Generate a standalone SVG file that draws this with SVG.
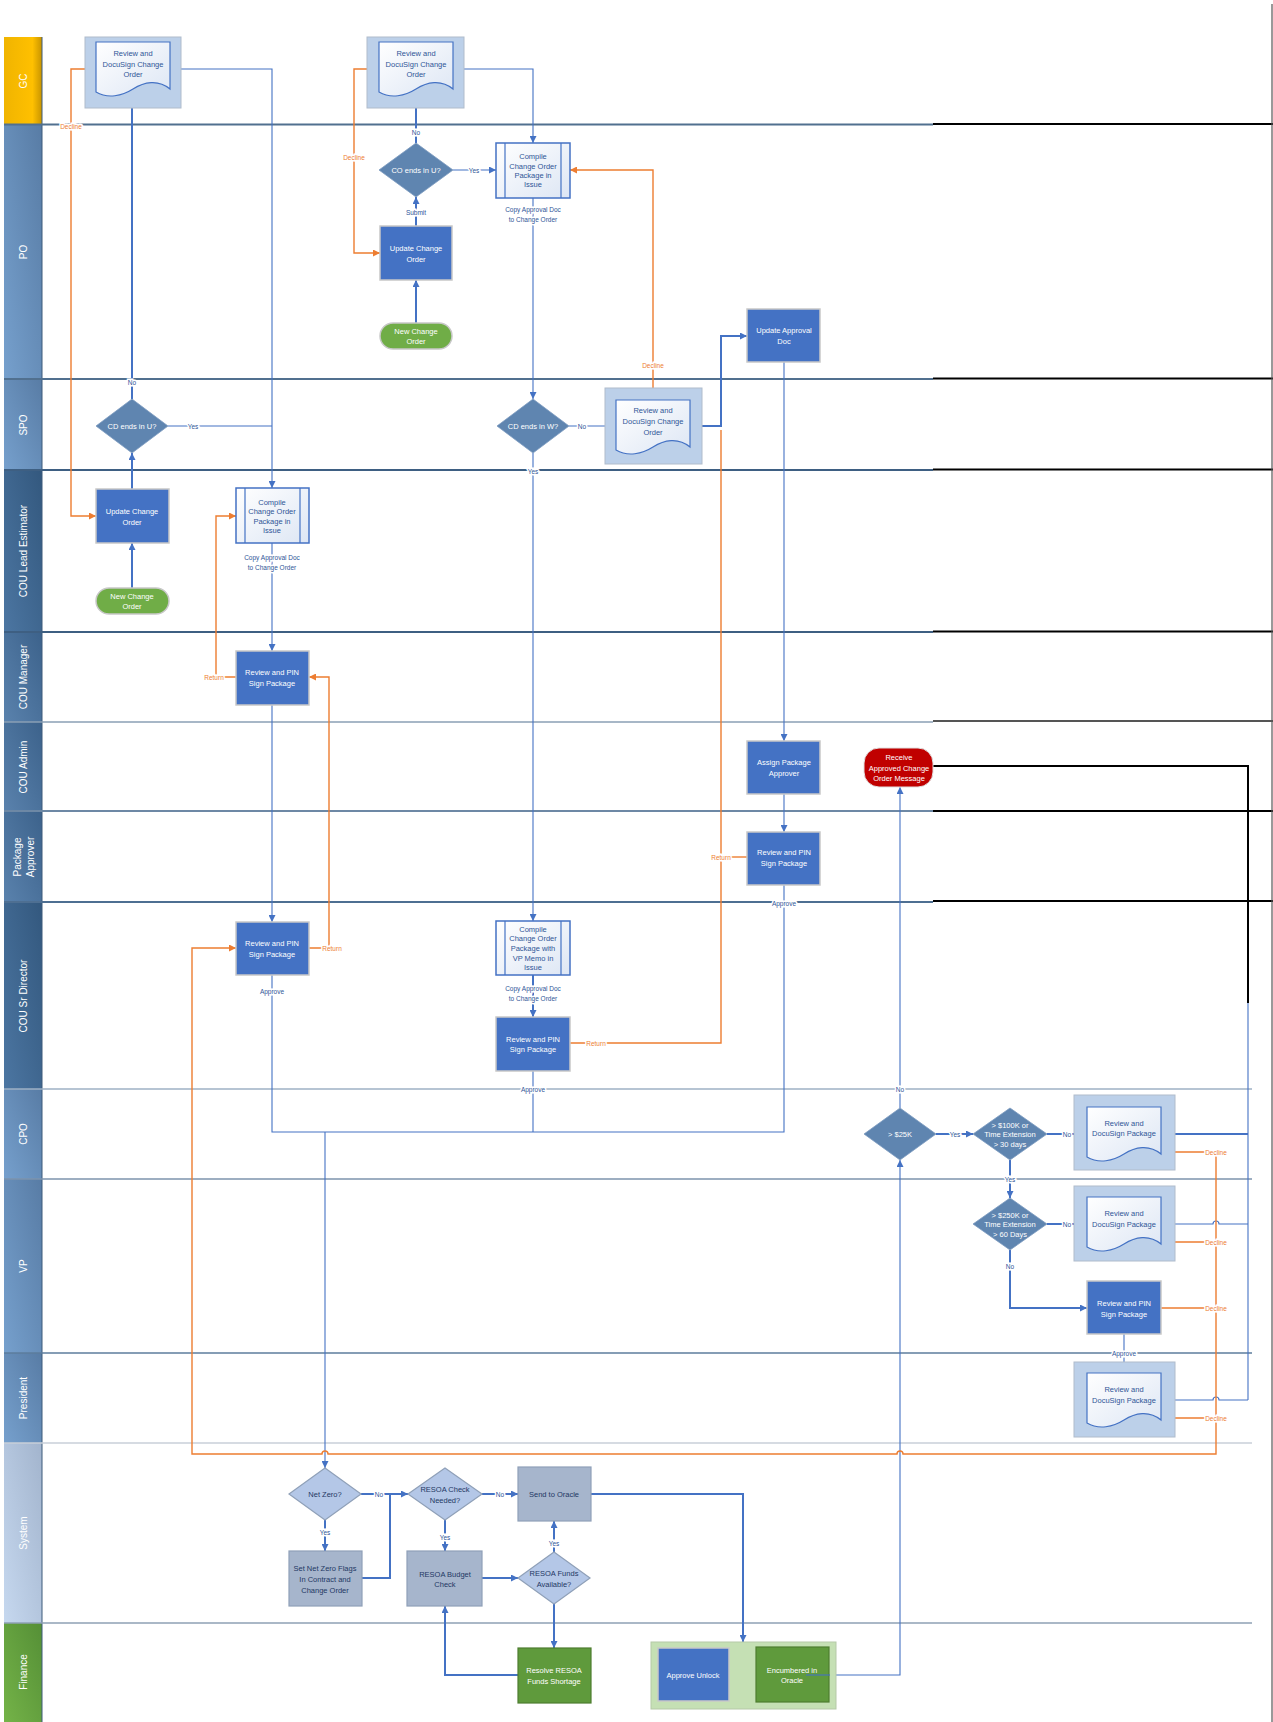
<svg xmlns="http://www.w3.org/2000/svg" xmlns:xlink="http://www.w3.org/1999/xlink" width="1273" height="1722" viewBox="0 0 1273 1722">
<defs>
<style>
.t{font-family:"Liberation Sans",Arial,sans-serif;font-size:7.5px;text-anchor:middle;dominant-baseline:central}
.tw{fill:#fff}.tb{fill:#2f5597}.tn{fill:#1f3864}
.lane{font-family:"Liberation Sans",Arial,sans-serif;font-size:10px;fill:#fff;text-anchor:middle;dominant-baseline:central}
.lbl{font-family:"Liberation Sans",Arial,sans-serif;font-size:6.5px;fill:#2f5597;text-anchor:middle;dominant-baseline:central;paint-order:stroke;stroke:#fff;stroke-width:3px}
.lo{fill:#ed7d31}
.proc{fill:#4472c4;stroke:#c8c8c8;stroke-width:1.5}
.dia{fill:#5f85b0;stroke:#7d9cc0;stroke-width:0.8}
.cont{fill:#bcd0e9;stroke:#b0bccb;stroke-width:1}
.doc{fill:url(#docg);stroke:#4472c4;stroke-width:1.2}
.sub{fill:url(#docg);stroke:#4472c4;stroke-width:1.5}
.term{fill:#70ad47;stroke:#c8c8c8;stroke-width:1.5}
.red{fill:#c00000;stroke:#e0e0e0;stroke-width:1}
.sys{fill:#a6b5cc;stroke:#8fa0b8;stroke-width:1.2}
.sysd{fill:#b4c7e7;stroke:#8fa0b8;stroke-width:1.2}
.fin{fill:#5f9a3c;stroke:#4e7d30;stroke-width:1.2}
.c{fill:none;stroke:#4472c4;stroke-width:1.1}
.ct{fill:none;stroke:#4472c4;stroke-width:2}
.o{fill:none;stroke:#ed7d31;stroke-width:1.4}
.bk{fill:none;stroke:#000;stroke-width:2}
</style>
<marker id="ab" viewBox="0 0 10 10" refX="10" refY="5" markerWidth="7" markerHeight="7" markerUnits="userSpaceOnUse" orient="auto"><path d="M0,0 L10,5 L0,10 z" fill="#4472c4"/></marker>
<marker id="ao" viewBox="0 0 10 10" refX="10" refY="5" markerWidth="7" markerHeight="7" markerUnits="userSpaceOnUse" orient="auto"><path d="M0,0 L10,5 L0,10 z" fill="#ed7d31"/></marker>
<linearGradient id="docg" x1="0" y1="0" x2="1" y2="1"><stop offset="0" stop-color="#ffffff"/><stop offset="1" stop-color="#dde6f4"/></linearGradient>
<linearGradient id="gGC" x1="0" y1="0" x2="1" y2="0"><stop offset="0" stop-color="#f0b400"/><stop offset="0.75" stop-color="#ffc000"/><stop offset="1" stop-color="#c89400"/></linearGradient>
<linearGradient id="gB1" x1="0" y1="1" x2="1" y2="0"><stop offset="0" stop-color="#76a0cd"/><stop offset="1" stop-color="#587ca5"/></linearGradient>
<linearGradient id="gB2" x1="0" y1="1" x2="1" y2="0"><stop offset="0" stop-color="#4c76a2"/><stop offset="1" stop-color="#33587e"/></linearGradient>
<linearGradient id="gB3" x1="0" y1="1" x2="1" y2="0"><stop offset="0" stop-color="#5a82ad"/><stop offset="1" stop-color="#3c628b"/></linearGradient>
<linearGradient id="gSys" x1="0" y1="1" x2="1" y2="0"><stop offset="0" stop-color="#c6d8ef"/><stop offset="1" stop-color="#a2b4cd"/></linearGradient>
<linearGradient id="gFin" x1="0" y1="1" x2="1" y2="0"><stop offset="0" stop-color="#74b348"/><stop offset="1" stop-color="#558f36"/></linearGradient>
<path id="doc" d="M0,0 H74 V47 C62,37 48,40 37,47 C26,54 12,57 0,50 Z"/>
</defs>
<rect x="0" y="0" width="1273" height="1722" fill="#fff"/>

<g id="lanes">
<rect x="4" y="37" width="38" height="88" fill="url(#gGC)"/>
<rect x="4" y="125" width="38" height="254" fill="url(#gB1)"/>
<rect x="4" y="379" width="38" height="91" fill="url(#gB1)"/>
<rect x="4" y="470" width="38" height="162" fill="url(#gB2)"/>
<rect x="4" y="632" width="38" height="90" fill="url(#gB3)"/>
<rect x="4" y="722" width="38" height="89" fill="url(#gB3)"/>
<rect x="4" y="811" width="38" height="91" fill="url(#gB3)"/>
<rect x="4" y="902" width="38" height="187" fill="url(#gB2)"/>
<rect x="4" y="1089" width="38" height="90" fill="url(#gB1)"/>
<rect x="4" y="1179" width="38" height="174" fill="url(#gB1)"/>
<rect x="4" y="1353" width="38" height="90" fill="url(#gB1)"/>
<rect x="4" y="1443" width="38" height="180" fill="url(#gSys)"/>
<rect x="4" y="1623" width="38" height="99" fill="url(#gFin)"/>
<line x1="42" y1="37" x2="42" y2="1722" stroke="#3d5a7a" stroke-width="1"/>
<g fill="none" stroke-width="2">
<line x1="4" y1="124.5" x2="933" y2="124.5" stroke="#51708f"/>
<line x1="4" y1="379" x2="933" y2="379" stroke="#51708f"/>
<line x1="4" y1="470" x2="933" y2="470" stroke="#3e5f82"/>
<line x1="4" y1="632" x2="933" y2="632" stroke="#3e5f82"/>
<line x1="4" y1="722" x2="933" y2="722" stroke="#8a9fb5" stroke-width="1.5"/>
<line x1="4" y1="811" x2="933" y2="811" stroke="#6d88a5"/>
<line x1="4" y1="902" x2="933" y2="902" stroke="#4e6f92"/>
<line x1="4" y1="1089" x2="1252" y2="1089" stroke="#9eb0c4" stroke-width="1.5"/>
<line x1="4" y1="1179" x2="1252" y2="1179" stroke="#7d93ad" stroke-width="1.5"/>
<line x1="4" y1="1353" x2="1252" y2="1353" stroke="#5d7c9c" stroke-width="1.5"/>
<line x1="4" y1="1443" x2="1252" y2="1443" stroke="#c8cfd8" stroke-width="1.5"/>
<line x1="4" y1="1623" x2="1252" y2="1623" stroke="#8ea0b5" stroke-width="1.5"/>
</g>
<g class="bk">
<line x1="933" y1="124" x2="1273" y2="124"/>
<line x1="933" y1="378.5" x2="1273" y2="378.5"/>
<line x1="933" y1="469.5" x2="1273" y2="469.5"/>
<line x1="933" y1="631.5" x2="1273" y2="631.5"/>
<line x1="933" y1="721" x2="1273" y2="721" stroke="#555"/>
<line x1="933" y1="811" x2="1273" y2="811"/>
<line x1="933" y1="901" x2="1273" y2="901"/>
</g>
<line x1="1272" y1="4" x2="1272" y2="1722" stroke="#555" stroke-width="1.2"/>
<text class="lane" transform="translate(23,81) rotate(-90)">GC</text>
<text class="lane" transform="translate(23,252) rotate(-90)">PO</text>
<text class="lane" transform="translate(23,425) rotate(-90)">SPO</text>
<text class="lane" transform="translate(23,551) rotate(-90)">COU Lead Estimator</text>
<text class="lane" transform="translate(23,677) rotate(-90)">COU Manager</text>
<text class="lane" transform="translate(23,767) rotate(-90)">COU Admin</text>
<text class="lane" transform="translate(17,857) rotate(-90)">Package</text>
<text class="lane" transform="translate(30,857) rotate(-90)">Approver</text>
<text class="lane" transform="translate(23,996) rotate(-90)">COU Sr Director</text>
<text class="lane" transform="translate(23,1134) rotate(-90)">CPO</text>
<text class="lane" transform="translate(23,1266) rotate(-90)">VP</text>
<text class="lane" transform="translate(23,1398) rotate(-90)">President</text>
<text class="lane" transform="translate(23,1533) rotate(-90)">System</text>
<text class="lane" transform="translate(23,1672) rotate(-90)">Finance</text>
</g>

<g id="connectors">
<path class="ct" d="M132,588 V543" marker-end="url(#ab)"/>
<path class="ct" d="M132,489 V453" marker-end="url(#ab)"/>
<path class="ct" d="M132,399 V91" marker-end="url(#ab)"/>
<path class="c" d="M168,426 H272"/>
<path class="c" d="M170,69 H272 V488" marker-end="url(#ab)"/>
<path class="o" d="M96,69 H71 V516 H96" marker-end="url(#ao)"/>
<path class="ct" d="M416,323 V280" marker-end="url(#ab)"/>
<path class="ct" d="M416,226 V197" marker-end="url(#ab)"/>
<path class="ct" d="M416,143 V91" marker-end="url(#ab)"/>
<path class="c" d="M453,170 H496" marker-end="url(#ab)"/>
<path class="c" d="M454,69 H533 V143" marker-end="url(#ab)"/>
<path class="o" d="M380,69 H354 V253 H380" marker-end="url(#ao)"/>
<path class="c" d="M533,198 V399" marker-end="url(#ab)"/>
<path class="c" d="M569,426 H616" marker-end="url(#ab)"/>
<path class="c" d="M533,453 V921" marker-end="url(#ab)"/>
<path class="o" d="M653,388 V170 H570" marker-end="url(#ao)"/>
<path class="o" d="M570,1043 H721 V430"/>
<path class="o" d="M747,857 H721"/>
<path class="ct" d="M690,426 H721 V336 H747" marker-end="url(#ab)"/>
<path class="c" d="M784,362 V741" marker-end="url(#ab)"/>
<path class="c" d="M784,794 V832" marker-end="url(#ab)"/>
<path class="c" d="M784,885 V1132 H272 V975"/>
<path class="c" d="M272,543 V651" marker-end="url(#ab)"/>
<path class="c" d="M272,705 V922" marker-end="url(#ab)"/>
<path class="o" d="M236,677 H216 V516 H236" marker-end="url(#ao)"/>
<path class="o" d="M309,948 H329 V677 H309" marker-end="url(#ao)"/>
<path class="ct" d="M533,975 V1017" marker-end="url(#ab)"/>
<path class="c" d="M533,1071 V1132"/>
<path class="c" d="M325,1132 V1468" marker-end="url(#ab)"/>
<path class="c" d="M806,1675 H900 V1160" marker-end="url(#ab)"/>
<path class="c" d="M900,1108 V787" marker-end="url(#ab)"/>
<path class="ct" d="M936,1134 H973" marker-end="url(#ab)"/>
<path class="ct" d="M1047,1134 H1087" marker-end="url(#ab)"/>
<path class="ct" d="M1010,1160 V1198" marker-end="url(#ab)"/>
<path class="ct" d="M1047,1224 H1087" marker-end="url(#ab)"/>
<path class="ct" d="M1010,1250 V1308 H1087" marker-end="url(#ab)"/>
<path class="c" d="M1124,1334 V1373" marker-end="url(#ab)"/>
<path class="ct" d="M1162,1134 H1248"/>
<path class="c" d="M1162,1224 H1213 a3,3 0 0 1 6,0 H1248"/>
<path class="c" d="M1248,1400 V1003" stroke="#8eaadb"/>
<path class="c" d="M1162,1400 H1213 a3,3 0 0 1 6,0 H1248"/>
<path class="bk" d="M1248,1003 V766 H933"/>
<path class="o" d="M1175,1152 H1216"/>
<path class="o" d="M1175,1242 H1216"/>
<path class="o" d="M1161,1308 H1216"/>
<path class="o" d="M1175,1418 H1216"/>
<path class="o" d="M1216,1152 V1454 H903 a3,3 0 0 0 -6,0 H328 a3,3 0 0 0 -6,0 H192 V948 H236" marker-end="url(#ao)"/>
<path class="ct" d="M325,1520 V1551" marker-end="url(#ab)"/>
<path class="ct" d="M361,1494 H408" marker-end="url(#ab)"/>
<path class="ct" d="M362,1578 H390 V1494"/>
<path class="ct" d="M482,1494 H518" marker-end="url(#ab)"/>
<path class="ct" d="M445,1520 V1551" marker-end="url(#ab)"/>
<path class="ct" d="M482,1578 H518" marker-end="url(#ab)"/>
<path class="ct" d="M554,1552 V1521" marker-end="url(#ab)"/>
<path class="ct" d="M554,1604 V1648" marker-end="url(#ab)"/>
<path class="ct" d="M518,1675 H445 V1606" marker-end="url(#ab)"/>
<path class="ct" d="M591,1494 H743 V1642" marker-end="url(#ab)"/>
</g>

<g id="connector-labels">
<text class="lbl lo" x="71" y="126">Decline</text>
<text class="lbl" x="132" y="382">No</text>
<text class="lbl" x="193" y="426">Yes</text>
<text class="lbl" x="416" y="132">No</text>
<text class="lbl" x="416" y="212">Submit</text>
<text class="lbl" x="474" y="170">Yes</text>
<text class="lbl lo" x="354" y="157">Decline</text>
<text class="lbl" x="533" y="209">Copy Approval Doc</text>
<text class="lbl" x="533" y="219">to Change Order</text>
<text class="lbl" x="582" y="426">No</text>
<text class="lbl" x="533" y="471">Yes</text>
<text class="lbl lo" x="653" y="365">Decline</text>
<text class="lbl" x="272" y="557">Copy Approval Doc</text>
<text class="lbl" x="272" y="567">to Change Order</text>
<text class="lbl lo" x="214" y="677">Return</text>
<text class="lbl lo" x="332" y="948">Return</text>
<text class="lbl lo" x="721" y="857">Return</text>
<text class="lbl" x="784" y="903">Approve</text>
<text class="lbl" x="272" y="991">Approve</text>
<text class="lbl" x="533" y="988">Copy Approval Doc</text>
<text class="lbl" x="533" y="998">to Change Order</text>
<text class="lbl lo" x="596" y="1043">Return</text>
<text class="lbl" x="533" y="1089">Approve</text>
<text class="lbl" x="900" y="1089">No</text>
<text class="lbl" x="955" y="1134">Yes</text>
<text class="lbl" x="1067" y="1134">No</text>
<text class="lbl" x="1010" y="1179">Yes</text>
<text class="lbl" x="1067" y="1224">No</text>
<text class="lbl" x="1010" y="1266">No</text>
<text class="lbl" x="1124" y="1353">Approve</text>
<text class="lbl lo" x="1216" y="1152">Decline</text>
<text class="lbl lo" x="1216" y="1242">Decline</text>
<text class="lbl lo" x="1216" y="1308">Decline</text>
<text class="lbl lo" x="1216" y="1418">Decline</text>
<text class="lbl" x="379" y="1494">No</text>
<text class="lbl" x="325" y="1532">Yes</text>
<text class="lbl" x="500" y="1494">No</text>
<text class="lbl" x="445" y="1537">Yes</text>
<text class="lbl" x="554" y="1543">Yes</text>
</g>

<g id="gc-review-1"><rect class="cont" x="85" y="37" width="96" height="71"/><use href="#doc" class="doc" x="96" y="42"/><text class="t tb" x="133" y="53">Review and</text><text class="t tb" x="133" y="64">DocuSign Change</text><text class="t tb" x="133" y="74">Order</text></g>
<g id="gc-review-2"><rect class="cont" x="367" y="37" width="97" height="71"/><use href="#doc" class="doc" x="379" y="42"/><text class="t tb" x="416" y="53">Review and</text><text class="t tb" x="416" y="64">DocuSign Change</text><text class="t tb" x="416" y="74">Order</text></g>
<g id="po-decision"><polygon class="dia" points="416,143 453,170 416,197 379,170"/><text class="t tw" x="416" y="170">CO ends in U?</text></g>
<g id="po-compile"><rect class="sub" x="496" y="143" width="74" height="55"/><line x1="505" y1="143" x2="505" y2="198" stroke="#4472c4" stroke-width="1.2"/><line x1="561" y1="143" x2="561" y2="198" stroke="#4472c4" stroke-width="1.2"/><text class="t tb" x="533" y="156">Compile</text><text class="t tb" x="533" y="166">Change Order</text><text class="t tb" x="533" y="175">Package in</text><text class="t tb" x="533" y="184">Issue</text></g>
<g id="po-update"><rect class="proc" x="380" y="226" width="72" height="54"/><text class="t tw" x="416" y="248">Update Change</text><text class="t tw" x="416" y="259">Order</text></g>
<g id="po-new"><rect class="term" x="380" y="323" width="72" height="26" rx="13"/><text class="t tw" x="416" y="331">New Change</text><text class="t tw" x="416" y="341">Order</text></g>
<g id="spo-decision-u"><polygon class="dia" points="132,399 168,426 132,453 96,426"/><text class="t tw" x="132" y="426">CD ends in U?</text></g>
<g id="spo-decision-w"><polygon class="dia" points="533,399 569,426 533,453 497,426"/><text class="t tw" x="533" y="426">CD ends in W?</text></g>
<g id="spo-review"><rect class="cont" x="605" y="388" width="97" height="76"/><use href="#doc" class="doc" x="616" y="400"/><text class="t tb" x="653" y="410">Review and</text><text class="t tb" x="653" y="421">DocuSign Change</text><text class="t tb" x="653" y="432">Order</text></g>
<g id="po-update-approval"><rect class="proc" x="747" y="309" width="73" height="53"/><text class="t tw" x="784" y="330">Update Approval</text><text class="t tw" x="784" y="341">Doc</text></g>
<g id="cle-update"><rect class="proc" x="96" y="489" width="73" height="54"/><text class="t tw" x="132" y="511">Update Change</text><text class="t tw" x="132" y="522">Order</text></g>
<g id="cle-new"><rect class="term" x="96" y="588" width="73" height="26" rx="13"/><text class="t tw" x="132" y="596">New Change</text><text class="t tw" x="132" y="606">Order</text></g>
<g id="cle-compile"><rect class="sub" x="236" y="488" width="73" height="55"/><line x1="245" y1="488" x2="245" y2="543" stroke="#4472c4" stroke-width="1.2"/><line x1="300" y1="488" x2="300" y2="543" stroke="#4472c4" stroke-width="1.2"/><text class="t tb" x="272" y="502">Compile</text><text class="t tb" x="272" y="511">Change Order</text><text class="t tb" x="272" y="521">Package in</text><text class="t tb" x="272" y="530">Issue</text></g>
<g id="mgr-review"><rect class="proc" x="236" y="651" width="73" height="54"/><text class="t tw" x="272" y="672">Review and PIN</text><text class="t tw" x="272" y="683">Sign Package</text></g>
<g id="admin-assign"><rect class="proc" x="747" y="741" width="73" height="53"/><text class="t tw" x="784" y="762">Assign Package</text><text class="t tw" x="784" y="773">Approver</text></g>
<g id="admin-receive"><rect class="red" x="864" y="748" width="69" height="39" rx="15"/><text class="t tw" x="899" y="757">Receive</text><text class="t tw" x="899" y="768">Approved Change</text><text class="t tw" x="899" y="778">Order Message</text></g>
<g id="pa-review"><rect class="proc" x="747" y="832" width="73" height="53"/><text class="t tw" x="784" y="852">Review and PIN</text><text class="t tw" x="784" y="863">Sign Package</text></g>
<g id="dir-review-1"><rect class="proc" x="236" y="922" width="73" height="53"/><text class="t tw" x="272" y="943">Review and PIN</text><text class="t tw" x="272" y="954">Sign Package</text></g>
<g id="dir-compile"><rect class="sub" x="496" y="921" width="74" height="54"/><line x1="505" y1="921" x2="505" y2="975" stroke="#4472c4" stroke-width="1.2"/><line x1="561" y1="921" x2="561" y2="975" stroke="#4472c4" stroke-width="1.2"/><text class="t tb" x="533" y="929">Compile</text><text class="t tb" x="533" y="938">Change Order</text><text class="t tb" x="533" y="948">Package with</text><text class="t tb" x="533" y="958">VP Memo in</text><text class="t tb" x="533" y="967">Issue</text></g>
<g id="dir-review-2"><rect class="proc" x="496" y="1017" width="74" height="54"/><text class="t tw" x="533" y="1039">Review and PIN</text><text class="t tw" x="533" y="1049">Sign Package</text></g>
<g id="cpo-25k"><polygon class="dia" points="900,1108 936,1134 900,1160 864,1134"/><text class="t tw" x="900" y="1134">&gt; $25K</text></g>
<g id="cpo-100k"><polygon class="dia" points="1010,1108 1047,1134 1010,1160 973,1134"/><text class="t tw" x="1010" y="1125">&gt; $100K or</text><text class="t tw" x="1010" y="1134">Time Extension</text><text class="t tw" x="1010" y="1144">&gt; 30 days</text></g>
<g id="cpo-review"><rect class="cont" x="1074" y="1095" width="101" height="75"/><use href="#doc" class="doc" x="1087" y="1107"/><text class="t tb" x="1124" y="1123">Review and</text><text class="t tb" x="1124" y="1133">DocuSign Package</text></g>
<g id="vp-250k"><polygon class="dia" points="1010,1198 1047,1224 1010,1250 973,1224"/><text class="t tw" x="1010" y="1215">&gt; $250K or</text><text class="t tw" x="1010" y="1224">Time Extension</text><text class="t tw" x="1010" y="1234">&gt; 60 Days</text></g>
<g id="vp-review-doc"><rect class="cont" x="1074" y="1186" width="101" height="75"/><use href="#doc" class="doc" x="1087" y="1197"/><text class="t tb" x="1124" y="1213">Review and</text><text class="t tb" x="1124" y="1224">DocuSign Package</text></g>
<g id="vp-review-pin"><rect class="proc" x="1087" y="1281" width="74" height="53"/><text class="t tw" x="1124" y="1303">Review and PIN</text><text class="t tw" x="1124" y="1314">Sign Package</text></g>
<g id="pres-review"><rect class="cont" x="1074" y="1362" width="101" height="75"/><use href="#doc" class="doc" x="1087" y="1373"/><text class="t tb" x="1124" y="1389">Review and</text><text class="t tb" x="1124" y="1400">DocuSign Package</text></g>
<g id="sys-netzero"><polygon class="sysd" points="325,1468 361,1494 325,1520 289,1494"/><text class="t tn" x="325" y="1494">Net Zero?</text></g>
<g id="sys-resoa-check"><polygon class="sysd" points="445,1468 482,1494 445,1520 408,1494"/><text class="t tn" x="445" y="1489">RESOA Check</text><text class="t tn" x="445" y="1500">Needed?</text></g>
<g id="sys-send"><rect class="sys" x="518" y="1467" width="73" height="54"/><text class="t tn" x="554" y="1494">Send to Oracle</text></g>
<g id="sys-flags"><rect class="sys" x="289" y="1551" width="73" height="55"/><text class="t tn" x="325" y="1568">Set Net Zero Flags</text><text class="t tn" x="325" y="1579">In Contract and</text><text class="t tn" x="325" y="1590">Change Order</text></g>
<g id="sys-budget"><rect class="sys" x="407" y="1551" width="75" height="55"/><text class="t tn" x="445" y="1574">RESOA Budget</text><text class="t tn" x="445" y="1584">Check</text></g>
<g id="sys-funds"><polygon class="sysd" points="554,1552 590,1578 554,1604 518,1578"/><text class="t tn" x="554" y="1573">RESOA Funds</text><text class="t tn" x="554" y="1584">Available?</text></g>
<g id="fin-resolve"><rect class="fin" x="518" y="1648" width="73" height="55"/><text class="t tw" x="554" y="1670">Resolve RESOA</text><text class="t tw" x="554" y="1681">Funds Shortage</text></g>
<g id="fin-group"><rect x="651" y="1642" width="185" height="67" fill="#c5e0b4" stroke="#b5c9a8" stroke-width="1"/>
<g id="fin-unlock"><rect class="proc" x="658" y="1648" width="71" height="53" stroke="#a9c4e8"/><text class="t tw" x="693" y="1675">Approve Unlock</text></g>
<g id="fin-encumbered"><rect class="fin" x="756" y="1647" width="73" height="55"/><text class="t tw" x="792" y="1670">Encumbered in</text><text class="t tw" x="792" y="1680">Oracle</text></g>
</g>
<path class="c" d="M806,1675 H830"/>
</svg>
